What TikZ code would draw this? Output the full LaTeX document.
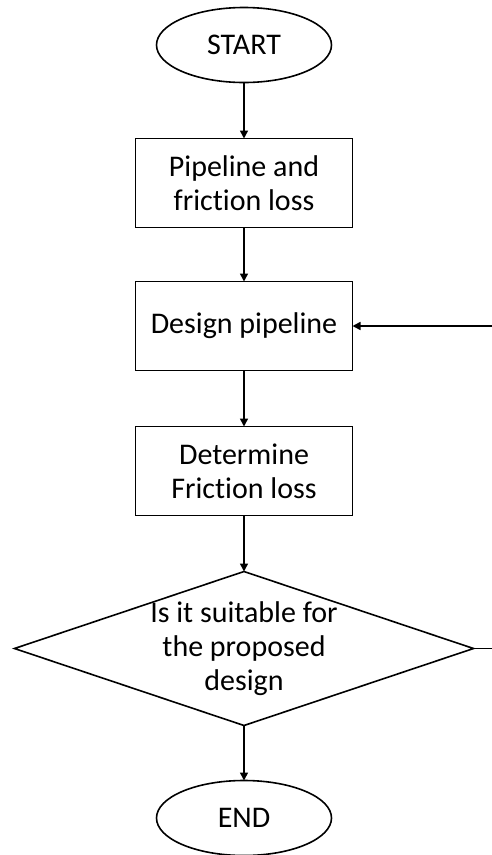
\documentclass[tikz,border=0pt]{standalone}
\usepackage{fontspec}
\setmainfont[Ligatures=NoCommon]{Carlito}
\usetikzlibrary{arrows.meta, positioning, shapes.geometric}

\begin{document}
\begin{tikzpicture}
   [
      terminal/.style={ellipse, draw, line width=1.6pt, minimum width=175pt,
                       minimum height=75pt, inner sep=0pt, outer sep=0pt,
                       font=\chartfont},
      process/.style={rectangle, draw, line width=1.6pt, minimum width=217pt,
                      minimum height=89pt, inner sep=0pt, outer sep=0pt,
                      align=center, font=\chartfont},
      decision/.style={diamond, draw, line width=1.6pt, shape aspect=3,
                       minimum width=459pt, minimum height=154pt,
                       inner sep=-10pt, outer sep=0pt, align=center,
                       font=\chartfont},
      flow/.style={line width=1.6pt, -{Triangle[length=8pt, width=8pt]}},
      loop line/.style={line width=1.6pt}
   ]
   \newcommand{\chartfont}{\fontsize{30}{34}\selectfont}

   % fixed page frame
   \useasboundingbox (0pt,0pt) rectangle (492pt,-855pt);

   % =======================================================
   % Main column
   % =======================================================

   \node[terminal] (start) at (244pt,-45pt) {START};
   \node[process, below=56pt of start] (friction) {Pipeline and\\friction loss};
   \node[process, below=54pt of friction] (design) {Design pipeline};
   \node[process, below=56pt of design] (determine) {Determine\\Friction loss};
   \node[decision, below=56pt of determine] (suitable) {Is it suitable for\\the proposed\\design};
   \node[terminal, below=55pt of suitable] (finish) {END};

   % Arrows down the column
   \draw[flow] (start) -- (friction);
   \draw[flow] (friction) -- (design);
   \draw[flow] (design) -- (determine);
   \draw[flow] (determine) -- (suitable);
   \draw[flow] (suitable) -- (finish);

   % =======================================================
   % Return loop (runs off the right edge)
   % =======================================================

   \coordinate (edge) at (492pt,0pt);
   \coordinate (loop_out) at (suitable.east -| edge);
   \coordinate (loop_in) at (design.east -| edge);

   \draw[loop line] (suitable.east) -- (loop_out);
   \draw[flow] (loop_in) -- (design.east);

\end{tikzpicture}
\end{document}
